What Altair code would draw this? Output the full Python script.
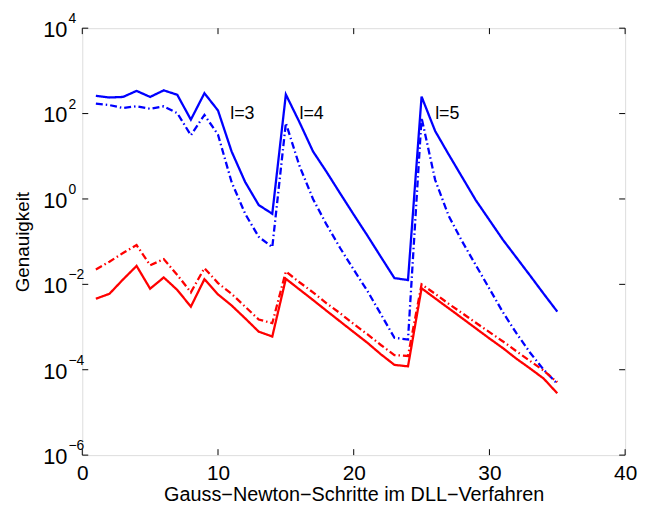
import altair as alt
import pandas as pd

steps = list(range(1, 36))

blue_solid = [260, 238, 245, 340, 245, 350, 275, 72, 300, 118,
              13, 2.5, 0.72, 0.45, 280, 63, 13, 4.3, 1.35, 0.43,
              0.14, 0.044, 0.014, 0.0126, 250, 39, 11, 3.2, 0.93, 0.32,
              0.11, 0.042, 0.016, 0.006, 0.0023]

blue_dashdot = [170, 158, 135, 148, 129, 148, 102, 31, 93, 32,
                2.5, 0.45, 0.13, 0.074, 60, 6.0, 1.0, 0.25, 0.071, 0.022,
                0.0071, 0.002, 5.6e-4, 5.1e-4, 80, 2.8, 0.4, 0.1, 0.028, 0.0079,
                0.0022, 7.1e-4, 2.5e-4, 1.0e-4, 4.7e-5]

red_solid = [0.0046, 0.006, 0.013, 0.027, 0.0079, 0.0145, 0.0074, 0.003, 0.0132, 0.0058,
             0.0032, 0.0016, 7.8e-4, 6.0e-4, 0.0135, 0.0076, 0.0043, 0.0024, 0.00135, 7.6e-4,
             4.3e-4, 2.3e-4, 1.3e-4, 1.2e-4, 0.0081, 0.0047, 0.00275, 0.0016, 9.3e-4, 5.4e-4,
             3.2e-4, 1.8e-4, 1.07e-4, 6.2e-5, 2.8e-5]

red_dashdot = [0.0224, 0.034, 0.054, 0.083, 0.028, 0.039, 0.0166, 0.0065, 0.024, 0.0107,
               0.006, 0.003, 0.0015, 0.00123, 0.02, 0.0112, 0.0065, 0.0036, 0.0021, 0.00118,
               6.8e-4, 3.8e-4, 2.2e-4, 2.1e-4, 0.01, 0.006, 0.0035, 0.0021, 0.00126, 7.6e-4,
               4.6e-4, 2.7e-4, 1.6e-4, 9.5e-5, 5.1e-5]

series_names = ["blau", "blau_strich", "rot", "rot_strich"]
series_values = [blue_solid, blue_dashdot, red_solid, red_dashdot]
series_colors = ["#0000ff", "#0000ff", "#ff0000", "#ff0000"]
series_dashes = [[1, 0], [7, 3, 1.5, 3], [1, 0], [7, 3, 1.5, 3]]

annot_x = [10.9, 16.0, 26.0]
annot_y = [100, 100, 100]
annot_text = ["l=3", "l=4", "l=5"]

x_ticks = [0, 10, 20, 30, 40]
y_ticks = [1e-6, 1e-4, 1e-2, 1e0, 1e2, 1e4]
y_tick_exp = ["\u22126", "\u22124", "\u22122", "0", "2", "4"]

W, H = 548, 431
FONT = "Liberation Sans"

rows = []
for name, vals in zip(series_names, series_values):
    for s, v in zip(steps, vals):
        rows.append({"serie": name, "schritt": s, "wert": v})
df = pd.DataFrame(rows)

xscale = alt.Scale(domain=[0, 40], nice=False, zero=False)
yscale = alt.Scale(type="log", domain=[1e-6, 1e4], nice=False)

lines = alt.Chart(df).mark_line(strokeWidth=2.3, clip=True).encode(
    x=alt.X("schritt:Q", scale=xscale,
            axis=alt.Axis(values=x_ticks, ticks=False, domain=False, grid=False,
                          labelFontSize=21, labelFont=FONT, labelColor="black",
                          labelPadding=8, labelFlush=False, labelOverlap=False,
                          title="Gauss\u2212Newton\u2212Schritte im DLL\u2212Verfahren",
                          titleFontSize=20, titleFont=FONT, titleFontWeight="normal",
                          titleColor="black", titleBaseline="alphabetic", titleY=46)),
    y=alt.Y("wert:Q", scale=yscale,
            axis=alt.Axis(values=y_ticks, ticks=False, domain=False, grid=False,
                          labels=False, title="Genauigkeit", titleFontSize=19,
                          titleFont=FONT, titleFontWeight="normal", titleColor="black",
                          titlePadding=50)),
    color=alt.Color("serie:N", scale=alt.Scale(domain=series_names, range=series_colors), legend=None),
    strokeDash=alt.StrokeDash("serie:N", scale=alt.Scale(domain=series_names, range=series_dashes), legend=None),
    detail="serie:N",
)

ann_df = pd.DataFrame({"x": annot_x, "y": annot_y, "t": annot_text})
annots = alt.Chart(ann_df).mark_text(align="left", baseline="middle", fontSize=18, font=FONT, color="black").encode(
    x=alt.X("x:Q", scale=xscale), y=alt.Y("y:Q", scale=yscale), text="t:N")

xt_df = pd.DataFrame({"x": x_ticks})
xt_bottom = alt.Chart(xt_df).mark_rule(color="black", strokeWidth=1).encode(
    x=alt.X("x:Q", scale=xscale), y=alt.value(H), y2=alt.value(H - 6))
xt_top = alt.Chart(xt_df).mark_rule(color="black", strokeWidth=1).encode(
    x=alt.X("x:Q", scale=xscale), y=alt.value(0), y2=alt.value(6))

yt_df = pd.DataFrame({"y": y_ticks, "base": ["10"] * len(y_ticks), "exp": y_tick_exp})
yt_left = alt.Chart(yt_df).mark_rule(color="black", strokeWidth=1).encode(
    y=alt.Y("y:Q", scale=yscale), x=alt.value(0), x2=alt.value(6))
yt_right = alt.Chart(yt_df).mark_rule(color="black", strokeWidth=1).encode(
    y=alt.Y("y:Q", scale=yscale), x=alt.value(W), x2=alt.value(W - 6))
yl_base = alt.Chart(yt_df).mark_text(align="right", baseline="middle", fontSize=22, font=FONT, color="black", dy=2).encode(
    y=alt.Y("y:Q", scale=yscale), x=alt.value(-15), text="base:N")
yl_exp = alt.Chart(yt_df).mark_text(align="left", baseline="middle", fontSize=14, font=FONT, color="black", dy=-9).encode(
    y=alt.Y("y:Q", scale=yscale), x=alt.value(-14), text="exp:N")

chart = alt.layer(lines, annots, xt_bottom, xt_top, yt_left, yt_right, yl_base, yl_exp).properties(
    width=W, height=H,
    autosize=alt.AutoSizeParams(type="none"),
    padding={"left": 75, "top": 18, "right": 14, "bottom": 50},
).configure_view(stroke="black", strokeWidth=1.2).configure(background="white")

chart.save("out.html", embed_options={"renderer": "svg", "actions": False})
